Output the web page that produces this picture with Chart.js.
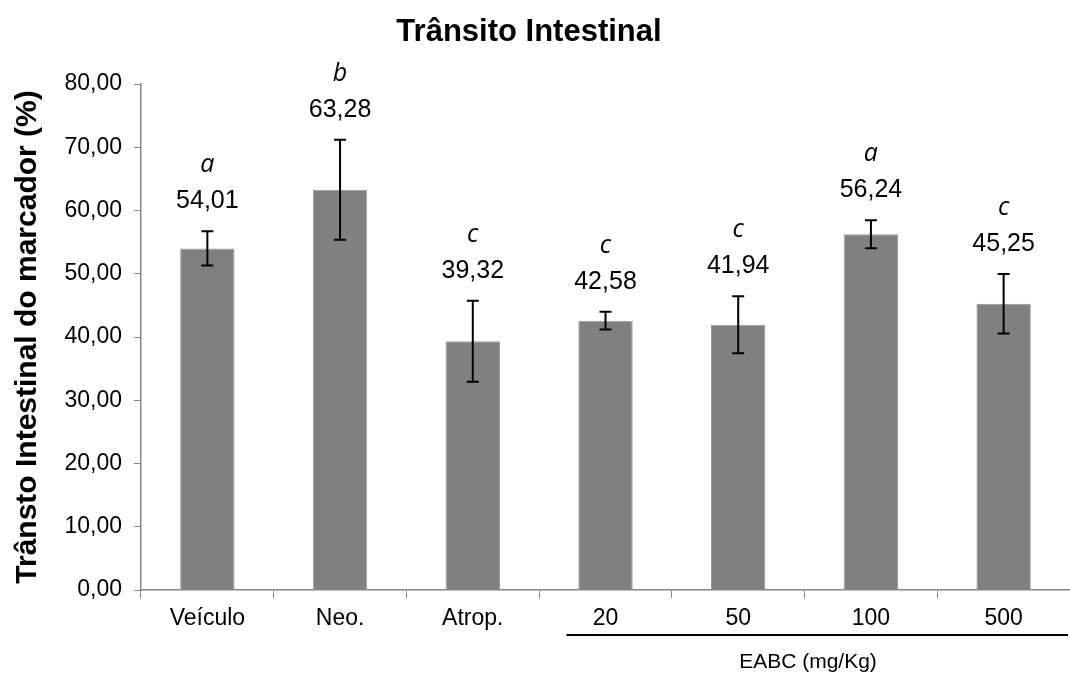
<!DOCTYPE html>
<html>
<head>
<meta charset="utf-8">
<script src="https://cdn.jsdelivr.net/npm/chart.js@4/dist/chart.umd.min.js"></script>
<style>
  html, body { margin: 0; padding: 0; background: #fff; }
  #wrap { width: 1070px; height: 673px; }
</style>
</head>
<body>
<div id="wrap"><canvas id="transitoChart" width="1070" height="673"></canvas></div>
<script>
// grupos e médias (%) com desvio padrão
const grupos = ['Veículo', 'Neo.', 'Atrop.', '20', '50', '100', '500'];
const medias = [54.01, 63.28, 39.32, 42.58, 41.94, 56.24, 45.25];
const desvios = [2.7, 7.9, 6.4, 1.4, 4.5, 2.2, 4.7];
const letras = ['a', 'b', 'c', 'c', 'c', 'a', 'c'];
const yTicks = [0, 10, 20, 30, 40, 50, 60, 70, 80];

const fmt = v => v.toFixed(2).replace('.', ',');
const FONT = '"Liberation Sans", Arial, sans-serif';

// barras de erro, rótulos de valor, letras, títulos e a linha do grupo EABC
const extras = {
  id: 'extras',
  afterDatasetsDraw(chart) {
    const ctx = chart.ctx;
    const x = chart.scales.x;
    const y = chart.scales.y;
    const area = chart.chartArea;
    ctx.save();

    ctx.strokeStyle = '#000';
    ctx.lineWidth = 2;
    medias.forEach((m, i) => {
      const cx = x.getPixelForValue(i);
      const top = y.getPixelForValue(m + desvios[i]);
      const bot = y.getPixelForValue(m - desvios[i]);
      ctx.beginPath();
      ctx.moveTo(cx, top); ctx.lineTo(cx, bot);
      ctx.moveTo(cx - 6, top); ctx.lineTo(cx + 6, top);
      ctx.moveTo(cx - 6, bot); ctx.lineTo(cx + 6, bot);
      ctx.stroke();

      ctx.fillStyle = '#000';
      ctx.textAlign = 'center';
      ctx.textBaseline = 'middle';
      ctx.font = '25px ' + FONT;
      ctx.fillText(fmt(m), cx, top - 30);
      ctx.font = 'italic 25px "Open Sans", sans-serif';
      ctx.fillText(letras[i], cx, top - 66);
    });

    // título
    ctx.fillStyle = '#000';
    ctx.textAlign = 'center';
    ctx.textBaseline = 'middle';
    ctx.font = 'bold 31px ' + FONT;
    ctx.fillText('Trânsito Intestinal', 529, 32);

    // título do eixo y
    ctx.save();
    ctx.translate(28, (area.top + area.bottom) / 2);
    ctx.rotate(-Math.PI / 2);
    ctx.font = 'bold 30px ' + FONT;
    ctx.fillText('Trânsto Intestinal do marcador (%)', 0, 0);
    ctx.restore();

    // linha sob as doses e legenda EABC
    const x0 = x.getPixelForValue(3) - 39;
    const x1 = chart.width - 2;
    ctx.lineWidth = 2;
    ctx.beginPath();
    ctx.moveTo(x0, 635); ctx.lineTo(x1, 635);
    ctx.stroke();
    ctx.font = '21px ' + FONT;
    ctx.fillText('EABC (mg/Kg)', 808, 662);

    ctx.restore();
  }
};

new Chart(document.getElementById('transitoChart').getContext('2d'), {
  type: 'bar',
  data: {
    labels: grupos,
    datasets: [{
      data: medias,
      backgroundColor: '#808080',
      borderColor: '#9a9a9a',
      borderWidth: 1,
      barPercentage: 0.41,
      categoryPercentage: 1
    }]
  },
  options: {
    responsive: false,
    animation: false,
    layout: { padding: { top: 84, left: 0, right: 0, bottom: 0 } },
    plugins: {
      legend: { display: false },
      tooltip: { enabled: false },
      title: { display: false }
    },
    scales: {
      x: {
        afterFit: s => { s.height = 83; },
        border: { color: '#868686', width: 1.5 },
        grid: { display: true, drawOnChartArea: false, drawTicks: true, tickLength: 8, color: '#868686', offset: true },
        ticks: { color: '#000', font: { family: FONT, size: 23 }, padding: 7, maxRotation: 0 }
      },
      y: {
        min: 0,
        max: 80,
        afterFit: s => { s.width = 141; },
        afterBuildTicks: s => { s.ticks = yTicks.map(v => ({ value: v })); },
        border: { color: '#868686', width: 1.5 },
        grid: { display: true, drawOnChartArea: false, drawTicks: true, tickLength: 7, color: '#868686' },
        ticks: {
          color: '#000',
          font: { family: FONT, size: 23 },
          padding: 12,
          callback: v => fmt(v)
        }
      }
    }
  },
  plugins: [extras]
});
</script>
</body>
</html>
